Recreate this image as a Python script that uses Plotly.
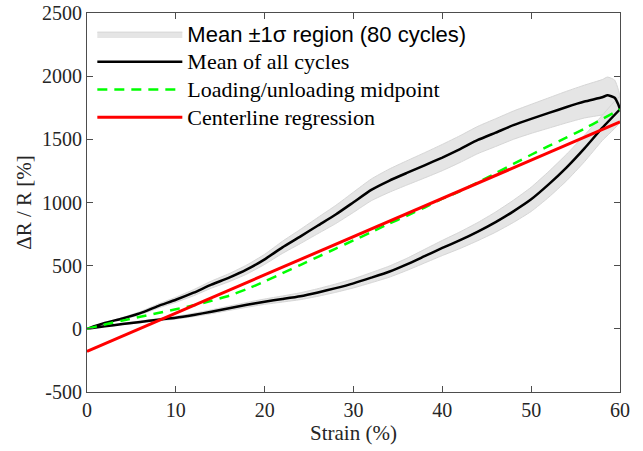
import plotly.graph_objects as go

# ---- data ----
load_strain = [0, 2, 4, 6, 8, 10, 12, 14, 16, 18, 20, 22, 24, 26, 28, 30, 32, 34, 36, 38,
               40, 42, 44, 46, 48, 50, 52, 54, 56, 58, 58.6, 59.4, 59.8, 60]
load_dr = [0, 47, 82, 124, 180, 230, 286, 350, 405, 470, 550, 645, 730, 818, 905, 1002,
           1100, 1172, 1234, 1294, 1356, 1423, 1495, 1553, 1612, 1662, 1709, 1756, 1799,
           1833, 1848, 1829, 1777, 1738]
load_sigma = [0, 4, 8, 12, 16, 20, 24, 28, 32, 36, 40, 48, 56, 64, 72, 80, 86, 92, 96, 100,
              104, 106, 108, 110, 112, 115, 120, 125, 130, 140, 145, 140, 120, 100]

unload_strain = [0, 2, 4, 6, 8, 10, 12, 14, 16, 18, 20, 22, 24, 26, 28, 30, 32, 34, 36, 38,
                 40, 42, 44, 46, 48, 50, 52, 54, 56, 58, 60]
unload_dr = [0, 20, 38, 55, 72, 88, 110, 135, 163, 190, 215, 236, 258, 288, 322, 360, 405,
             452, 510, 575, 640, 702, 770, 845, 930, 1025, 1145, 1278, 1428, 1590, 1738]
unload_sigma = [0, 3, 5, 7, 9, 11, 13, 15, 17, 19, 21, 24, 27, 30, 33, 36, 40, 44, 48, 54,
                60, 66, 72, 80, 88, 96, 102, 105, 105, 100, 100]

mid_strain = [0, 2, 4, 6, 8, 10, 12, 14, 16, 18, 20, 22, 24, 26, 28, 30, 32, 34, 36, 38,
              40, 42, 44, 46, 48, 50, 52, 54, 56, 58, 60]
mid_dr = [0, 35, 65, 95, 125, 155, 186, 222, 262, 315, 375, 440, 505, 570, 635, 700, 765,
          832, 895, 960, 1030, 1090, 1158, 1232, 1305, 1378, 1448, 1515, 1585, 1660, 1738]

reg_strain = [0, 60]
reg_dr = [-178, 1638]

y_ticks = [-500, 0, 500, 1000, 1500, 2000, 2500]
y_ticktext = ["-500", "0", "500", "1000", "1500", "2000", "2500"]
x_ticks = [0, 10, 20, 30, 40, 50, 60]

# ---- figure ----
BAND_FILL = "rgb(229,229,229)"
BAND_LINE = "rgb(214,214,214)"
SERIF = "Liberation Serif"
TXT = "rgb(38,38,38)"


def big(text, family=None):
    fam = f"font-family:{family};" if family else ""
    return f'<span style="{fam}font-size:22px">{text}</span>'


fig = go.Figure()

# loading band
lx = load_strain + load_strain[::-1]
ly = [d + s for d, s in zip(load_dr, load_sigma)] + [d - s for d, s in zip(load_dr, load_sigma)][::-1]
fig.add_trace(go.Scatter(x=lx, y=ly, fill="toself", fillcolor=BAND_FILL,
                         line=dict(color=BAND_LINE, width=1, shape="spline", smoothing=0.5),
                         mode="lines",
                         name=big("Mean ±1σ region (80 cycles)", "Liberation Sans"),
                         legendgroup="band", showlegend=True, hoverinfo="skip"))
# unloading band
ux = unload_strain + unload_strain[::-1]
uy = [d + s for d, s in zip(unload_dr, unload_sigma)] + [d - s for d, s in zip(unload_dr, unload_sigma)][::-1]
fig.add_trace(go.Scatter(x=ux, y=uy, fill="toself", fillcolor=BAND_FILL,
                         line=dict(color=BAND_LINE, width=1, shape="spline", smoothing=0.5),
                         mode="lines",
                         legendgroup="band", showlegend=False, hoverinfo="skip"))

# mean loop (loading then unloading back)
mx = load_strain + unload_strain[::-1]
my = load_dr + unload_dr[::-1]
fig.add_trace(go.Scatter(x=mx, y=my, mode="lines",
                         line=dict(color="black", width=2.5, shape="spline", smoothing=0.5),
                         name=big("Mean of all cycles")))

fig.add_trace(go.Scatter(x=mid_strain, y=mid_dr, mode="lines",
                         line=dict(color="rgb(0,255,0)", width=2.5, dash="10px,7px",
                                   shape="spline", smoothing=0.5),
                         name=big("Loading/unloading midpoint")))

fig.add_trace(go.Scatter(x=reg_strain, y=reg_dr, mode="lines",
                         line=dict(color="red", width=3),
                         name=big("Centerline regression")))

axis_common = dict(showline=True, linecolor="rgb(77,77,77)", linewidth=1.2, mirror="ticks",
                   ticks="inside", ticklen=6, tickcolor="rgb(77,77,77)", showgrid=False,
                   zeroline=False, automargin=False,
                   tickfont=dict(family=SERIF, size=20, color=TXT))

fig.update_layout(
    width=643, height=451,
    margin=dict(l=87, r=23, t=13, b=59, autoexpand=False),
    plot_bgcolor="white", paper_bgcolor="white",
    showlegend=True,
    legend=dict(x=0.01, y=0.994, xanchor="left", yanchor="top",
                font=dict(family=SERIF, size=19, color="black"),
                bgcolor="rgba(255,255,255,0)", borderwidth=0,
                itemwidth=85, tracegroupgap=0),
    xaxis=dict(range=[0, 60], tickvals=x_ticks,
               title=dict(text="Strain (%)", font=dict(family=SERIF, size=21, color=TXT),
                          standoff=4),
               **axis_common),
    yaxis=dict(range=[-500, 2500], tickvals=y_ticks, ticktext=y_ticktext,
               title=dict(text="ΔR / R [%]", font=dict(family=SERIF, size=21, color=TXT),
                          standoff=4),
               **axis_common),
)

fig.write_html("out.html")
